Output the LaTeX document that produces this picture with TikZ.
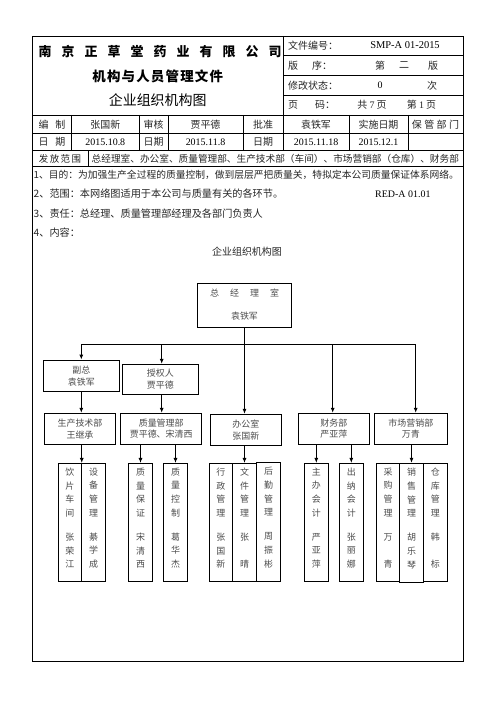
\documentclass[tikz,border=0pt]{standalone}
\usepackage{fontspec}
\setmainfont{Liberation Serif}
\newfontfamily\cjk{Noto Sans CJK SC}
\usetikzlibrary{arrows.meta}
\begin{document}
\begin{tikzpicture}[x=1bp,y=-1bp]
\tikzset{
  ln/.style={line width=0.8bp, draw=black},
  hd/.style={font=\cjk\fontsize{10}{12}\selectfont, inner sep=0, text=black!85},
  num/.style={font=\fontsize{10}{12}\selectfont, inner sep=0, text=black},
  cbox/.style={draw, line width=0.9bp, inner sep=0, align=center, font=\cjk\fontsize{9}{11.5}\selectfont, text=black!70},
  leaf/.style={draw, line width=0.9bp, inner sep=0, minimum height=118bp},
  vtx/.style={inner sep=0, align=center, font=\cjk\fontsize{9}{13.8}\selectfont, text=black!70},
  arr/.style={line width=0.9bp, draw=black, -{Latex[length=5bp,width=4bp]}},
}
\useasboundingbox (0,0) rectangle (496,702);
\fill[white] (0,0) rectangle (496,702);
% outer frame
\draw[ln] (32.3,36) rectangle (463,661);
% header grid
\draw[ln] (283,36) -- (283,115);
\foreach \yy in {55,75,95} \draw[ln] (283,\yy) -- (463,\yy);
\foreach \yy in {115,133.7,150.5,166.7} \draw[ln] (32.3,\yy) -- (463,\yy);
\foreach \xx in {71.7,139,168,243,283,349,408} \draw[ln] (\xx,115) -- (\xx,150.5);
\draw[ln] (88,150.5) -- (88,166.7);
% title block
\foreach \c [count=\i from 0] in {南,京,正,草,堂,药,业,有,限,公,司}
  \node[inner sep=0, font=\cjk\bfseries\fontsize{13}{15}\selectfont] (t\i) at (45+23*\i,51.5) {\c};
\node[inner sep=0, font=\cjk\bfseries\fontsize{13.5}{15}\selectfont] (t2) at (157.7,76.7) {机\hspace{1.2bp}构\hspace{1.2bp}与\hspace{1.2bp}人\hspace{1.2bp}员\hspace{1.2bp}管\hspace{1.2bp}理\hspace{1.2bp}文\hspace{1.2bp}件};
\node[inner sep=0, font=\cjk\fontsize{14}{16}\selectfont] (t3) at (157.7,100) {企业组织机构图};
% right block
\node[hd, anchor=west] (r1a) at (288,45.5) {文件编号：};
\node[num, font=\fontsize{10.5}{12}\selectfont] (r1b) at (405,45.5) {SMP-A 01-2015};
\node[hd, anchor=west] (r2a) at (288,65.5) {版};
\node[hd] (r2b) at (322,65.5) {序：};
\node[hd] (r2c) at (380,65.5) {第};
\node[hd] (r2d) at (404,65.5) {二};
\node[hd] (r2e) at (433,65.5) {版};
\node[hd, anchor=west] (r3a) at (288,85.5) {修改状态：};
\node[num] (r3b) at (380,85.5) {0};
\node[hd] (r3c) at (432,85.5) {次};
\node[hd, anchor=west] (r4a) at (288,105) {页};
\node[hd] (r4b) at (325,105) {码：};
\node[hd] (r4c) at (372,105) {共 \fontspec{Liberation Serif}7\cjk{} 页};
\node[hd] (r4d) at (421.5,105) {第 \fontspec{Liberation Serif}1\cjk{} 页};
% row 编制
\node[hd] (a1) at (52,124.5) {编\hspace{7bp}制};
\node[hd] (a2) at (105.3,124.5) {张国新};
\node[hd] (a3) at (153.5,124.5) {审核};
\node[hd] (a4) at (205.5,124.5) {贾平德};
\node[hd] (a5) at (263,124.5) {批准};
\node[hd] (a6) at (316,124.5) {袁铁军};
\node[hd] (a7) at (378.5,124.5) {实施日期};
\node[hd] (a8) at (435.5,124.5) {保\hspace{2.5bp}管\hspace{2.5bp}部\hspace{2.5bp}门};
% row 日期
\node[hd] (b1) at (52,142.2) {日\hspace{7bp}期};
\node[num] (b2) at (105.3,142.2) {2015.10.8};
\node[hd] (b3) at (153.5,142.2) {日期};
\node[num] (b4) at (205.5,142.2) {2015.11.8};
\node[hd] (b5) at (263,142.2) {日期};
\node[num] (b6) at (316,142.2) {2015.11.18};
\node[num] (b7) at (378.5,142.2) {2015.12.1};
% row 发放范围
\node[hd, font=\cjk\fontsize{9.5}{11}\selectfont] (c1) at (60,158.8) {发\hspace{1.5bp}放\hspace{1.5bp}范\hspace{1.5bp}围};
\node[hd, anchor=west, font=\cjk\fontsize{9.7}{11}\selectfont] (c2) at (91.5,158.8) {总经理室、办公室、质量管理部、生产技术部（车间）、市场营销部（仓库）、财务部};
% body lines
\node[hd, anchor=west, font=\cjk\fontsize{9.8}{11}\selectfont] (d1) at (33.5,174.5) {1、目的：为加强生产全过程的质量控制，做到层层严把质量关，特拟定本公司质量保证体系网络。};
\node[hd, anchor=west, font=\cjk\fontsize{10.2}{12}\selectfont] (d2) at (33.5,194) {2、范围：本网络图适用于本公司与质量有关的各环节。};
\node[num, anchor=west] (d2b) at (375,194) {RED-A 01.01};
\node[hd, anchor=west, font=\cjk\fontsize{10.2}{12}\selectfont] (d3) at (33.5,213.3) {3、责任：总经理、质量管理部经理及各部门负责人};
\node[hd, anchor=west, font=\cjk\fontsize{10.2}{12}\selectfont] (d4) at (33.5,232.5) {4、内容：};
% chart title
\node[hd, font=\cjk\fontsize{10}{12}\selectfont] (ct) at (247,251.7) {企业组织机构图};
% top box
\node[cbox, minimum width=94.4bp, minimum height=44bp] (top) at (244.5,305.3) {};
\foreach \c [count=\i from 0] in {总,经,理,室}
  \node[vtx] (tt\i) at (214.5+20*\i,292.7) {\c};
\node[vtx] (tn) at (244.5,316) {袁铁军};
% level 2
\node[cbox, minimum width=76bp, minimum height=31.7bp] (vp) at (81.3,375.9) {副总\\袁铁军};
\node[cbox, minimum width=76bp, minimum height=30bp] (auth) at (160.3,379.3) {授权人\\贾平德};
\node[cbox, minimum width=71.4bp, minimum height=31bp] (prod) at (80,428.8) {生产技术部\\王继承};
\node[cbox, minimum width=81bp, minimum height=31bp] (qm) at (161.2,428.8) {质量管理部\\贾平德、宋清西};
\node[cbox, minimum width=71.7bp, minimum height=31.4bp] (off) at (245.8,430) {办公室\\张国新};
\node[cbox, minimum width=71bp, minimum height=31bp] (fin) at (333.8,428.8) {财务部\\严亚萍};
\node[cbox, minimum width=73bp, minimum height=31bp] (mkt) at (410.8,428.8) {市场营销部\\万青};
% leaves
\node[leaf, minimum width=23bp] (l1) at (69.8,522.4) {};
\node[leaf, minimum width=24.4bp] (l2) at (93.5,522.4) {};
\node[leaf, minimum width=24.4bp] (q1) at (140.5,522.4) {};
\node[leaf, minimum width=24.4bp] (q2) at (175.5,522.4) {};
\node[leaf, minimum width=23bp] (o1) at (220.8,522.4) {};
\node[leaf, minimum width=24.4bp] (o2) at (244.5,522.4) {};
\node[leaf, minimum width=24bp, minimum height=119.5bp] (o3) at (268.7,521.75) {};
\node[leaf, minimum width=24bp] (f1) at (316.3,522.4) {};
\node[leaf, minimum width=24bp] (f2) at (351.3,522.4) {};
\node[leaf, minimum width=23bp] (m1) at (388.2,522.4) {};
\node[leaf, minimum width=23.6bp, minimum height=119.2bp] (m2) at (411.5,522.9) {};
\node[leaf, minimum width=24bp] (m3) at (435.3,522.4) {};
\node[vtx] at ([yshift=4.3bp]l1.center) {饮\\片\\车\\间\\[10bp]张\\荣\\江};
\node[vtx] at ([yshift=4.3bp]l2.center) {设\\备\\管\\理\\[10bp]綦\\学\\成};
\node[vtx] at ([yshift=4.3bp]q1.center) {质\\量\\保\\证\\[10bp]宋\\清\\西};
\node[vtx] at ([yshift=4.3bp]q2.center) {质\\量\\控\\制\\[10bp]葛\\华\\杰};
\node[vtx] at ([yshift=4.3bp]o1.center) {行\\政\\管\\理\\[10bp]张\\国\\新};
\node[vtx] at ([yshift=4.3bp]o2.center) {文\\件\\管\\理\\[10bp]张\\\phantom{张}\\晴};
\node[vtx] at ([yshift=4.3bp]o3.center) {后\\勤\\管\\理\\[10bp]周\\振\\彬};
\node[vtx] at ([yshift=4.3bp]f1.center) {主\\办\\会\\计\\[10bp]严\\亚\\萍};
\node[vtx] at ([yshift=4.3bp]f2.center) {出\\纳\\会\\计\\[10bp]张\\丽\\娜};
\node[vtx] at ([yshift=4.3bp]m1.center) {采\\购\\管\\理\\[10bp]万\\\phantom{万}\\青};
\node[vtx] at ([yshift=4.3bp]m2.center) {销\\售\\管\\理\\[10bp]胡\\乐\\琴};
\node[vtx] at ([yshift=4.3bp]m3.center) {仓\\库\\管\\理\\[10bp]韩\\\phantom{韩}\\标};
% bus and connectors
\coordinate (j1) at (81.3,344.3);
\coordinate (j2) at (161.7,344.3);
\coordinate (j4) at (332.7,344.3);
\coordinate (j5) at (415.7,344.3);
\draw[ln, line width=0.9bp] (j1) -- (j5);
\draw[arr] (top.south) -- (top.south |- off.north);
\draw[arr] (j1) -- (j1 |- vp.north);
\draw[arr] (j2) -- (j2 |- auth.north);
\draw[arr] (j4) -- (j4 |- fin.north);
\draw[arr] (j5) -- (j5 |- mkt.north);
\draw[arr] (vp.south) -- (vp.south |- prod.north);
\draw[arr] ([xshift=1.4bp]auth.south) -- ([xshift=1.4bp]auth.south |- qm.north);
\draw[arr] (l1.north east |- prod.south) -- (l1.north east);
\draw[arr] (q1.north |- qm.south) -- (q1.north);
\draw[arr] (q2.north |- qm.south) -- (q2.north);
\draw[arr] (o2.north |- off.south) -- (o2.north);
\draw[arr] (f1.north |- fin.south) -- (f1.north);
\draw[arr] (f2.north |- fin.south) -- (f2.north);
\draw[arr] (m2.north |- mkt.south) -- (m2.north);
\end{tikzpicture}
\end{document}
